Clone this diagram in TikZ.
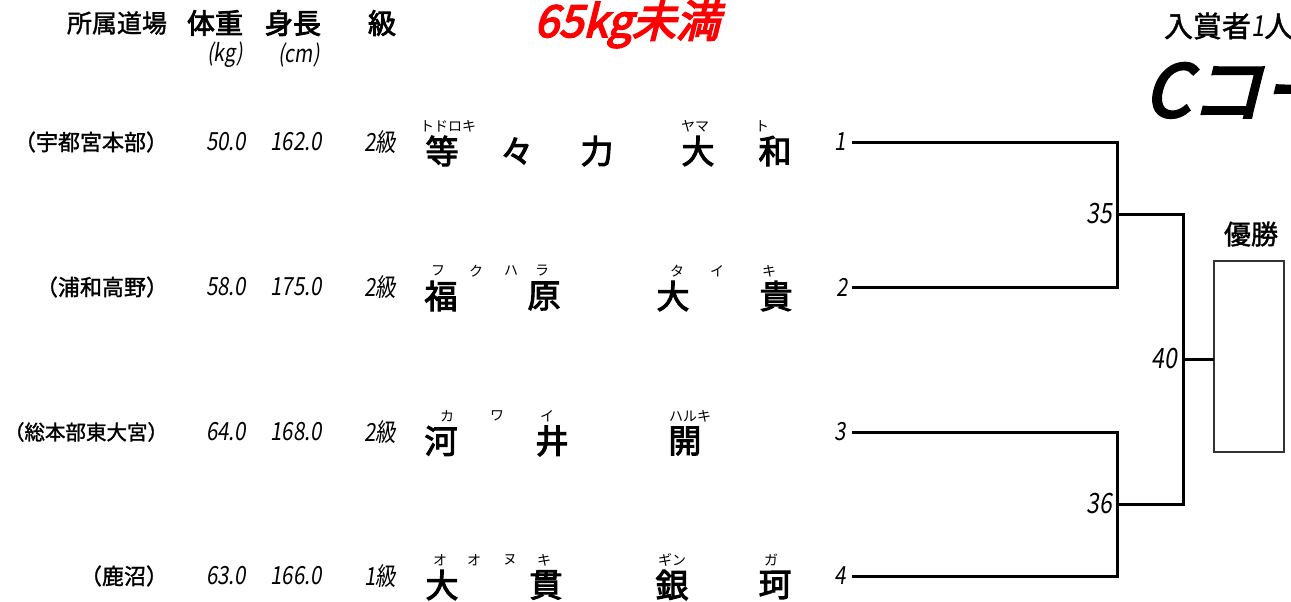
\documentclass[tikz,border=0pt]{standalone}
\usepackage{fontspec}
\setmainfont{Noto Sans CJK JP}
\newfontfamily\jpslant[FakeSlant=0.15,FakeStretch=0.82]{Noto Sans CJK JP}
\newfontfamily\jpboldslant[FakeSlant=0.25,FakeBold=4]{Noto Sans CJK JP}
\newfontfamily\jpheavy[FakeBold=3]{Noto Sans CJK JP}
\newfontfamily\jpmid[FakeBold=1.5]{Noto Sans CJK JP}
\usepackage{tikz}
\usetikzlibrary{positioning}

\begin{document}
\begin{tikzpicture}[
  x=1pt, y=-1pt,
  every node/.style={inner sep=0pt, outer sep=0pt},
  head/.style={font=\fontsize{25}{25}\selectfont\jpmid},
  headbig/.style={font=\fontsize{28}{28}\selectfont\jpheavy},
  unit/.style={font=\fontsize{24}{24}\selectfont\jpslant},
  dojo/.style={anchor=east, font=\fontsize{22}{22}\selectfont\jpmid},
  num/.style={font=\fontsize{25}{25}\selectfont\jpslant},
  kanji/.style={font=\fontsize{33}{33}\selectfont\jpheavy},
  ruby/.style={font=\fontsize{14}{14}\selectfont},
  bout/.style={line width=3pt, black},
  winbox/.style={draw=black!80, line width=1.8pt, minimum width=70, minimum height=191},
]
\useasboundingbox (0,0) rectangle (1291,602);

% header
\node[head] (dojo) at (117,23) {所属道場};
\node[headbig] (wt) at (215,23) {体重};
\node[headbig] (ht) at (293,23) {身長};
\node[headbig] (kyu) at (382,23) {級};
\node[unit] (kg) at (225,55) {(kg)};
\node[unit] (cm) at (299,55) {(cm)};
\node[font=\fontsize{44}{44}\selectfont\jpboldslant, text=red] (title) at (627,24) {65kg未満};
\node[anchor=west, font=\fontsize{29}{29}\selectfont\jpmid] (prize) at (1164,26) {入賞者{\jpslant 1}人};
\node[anchor=west, font=\fontsize{72}{72}\selectfont\jpboldslant] (court) at (1144,90) {Cコート};

% row 1
\node[dojo] (d1) at (168,142) {（宇都宮本部）};
\node[num] (w1) at (226,142) {50.0};
\node[num] (h1) at (296,142) {162.0};
\node[num] (k1) at (380,142) {2級};
\node[kanji] (a1) at (442,151) {等};
\node[kanji] (b1) at (517,151) {々};
\node[kanji] (c1) at (597,151) {力};
\node[kanji] (e1) at (698,151) {大};
\node[kanji] (f1) at (775,151) {和};
\node[ruby] at (448,126) {トドロキ};
\node[ruby] at (695,126) {ヤマ};
\node[ruby] at (762,126) {ト};
\node[num] (n1) at (840,142) {1};

% row 2
\node[dojo] (d2) at (168,287) {（浦和高野）};
\node[num] (w2) at (226,287) {58.0};
\node[num] (h2) at (296,287) {175.0};
\node[num] (k2) at (380,287) {2級};
\node[kanji] (a2) at (441,296) {福};
\node[kanji] (b2) at (544,296) {原};
\node[kanji] (e2) at (673,296) {大};
\node[kanji] (f2) at (776,296) {貴};
\node[ruby] at (438,271) {フ};
\node[ruby] at (476,271) {ク};
\node[ruby] at (511,271) {ハ};
\node[ruby] at (542,271) {ラ};
\node[ruby] at (677,271) {タ};
\node[ruby] at (717,271) {イ};
\node[ruby] at (769,271) {キ};
\node[num] (n2) at (842,287) {2};

% row 3
\node[dojo, font=\fontsize{20.5}{20.5}\selectfont\jpmid] (d3) at (168,432) {（総本部東大宮）};
\node[num] (w3) at (226,432) {64.0};
\node[num] (h3) at (296,432) {168.0};
\node[num] (k3) at (380,432) {2級};
\node[kanji] (a3) at (441,441) {河};
\node[kanji] (b3) at (552,441) {井};
\node[kanji] (e3) at (685,441) {開};
\node[ruby] at (447,416) {カ};
\node[ruby] at (497,416) {ワ};
\node[ruby] at (547,416) {イ};
\node[ruby] at (690,416) {ハルキ};
\node[num] (n3) at (840,432) {3};

% row 4
\node[dojo] (d4) at (168,576) {（鹿沼）};
\node[num] (w4) at (226,576) {63.0};
\node[num] (h4) at (296,576) {166.0};
\node[num] (k4) at (380,576) {1級};
\node[kanji] (a4) at (442,585) {大};
\node[kanji] (b4) at (546,585) {貫};
\node[kanji] (e4) at (672,585) {銀};
\node[kanji] (f4) at (775,585) {珂};
\node[ruby] at (440,560) {オ};
\node[ruby] at (474,560) {オ};
\node[ruby] at (510,560) {ヌ};
\node[ruby] at (544,560) {キ};
\node[ruby] at (672,560) {ギン};
\node[ruby] at (771,560) {ガ};
\node[num] (n4) at (840,576) {4};

% bracket
\coordinate (p1) at (852,142);
\coordinate (p2) at (852,287);
\coordinate (p3) at (852,432);
\coordinate (p4) at (852,576);
\coordinate (m35) at (1117,214);
\coordinate (m36) at (1117,504);
\coordinate (m40) at (1183,359);
\node[winbox] (win) at (1249,356.5) {};
\node[font=\fontsize{27}{27}\selectfont\jpmid] (champ) at (1251,234) {優勝};

\draw[bout] (p1) -| (m35);
\draw[bout] (p2) -| (m35);
\draw[bout] (p3) -| (m36);
\draw[bout] (p4) -| (m36);
\draw[bout] (m35) -| (m40);
\draw[bout] (m36) -| (m40);
\draw[bout] (m40) -- (m40 -| win.west);

\node[num, font=\fontsize{28}{28}\selectfont\jpslant, left=5pt of m35] (r35) {35};
\node[num, font=\fontsize{28}{28}\selectfont\jpslant, left=5pt of m36] (r36) {36};
\node[num, font=\fontsize{28}{28}\selectfont\jpslant, left=6pt of m40] (r40) {40};

\end{tikzpicture}
\end{document}
